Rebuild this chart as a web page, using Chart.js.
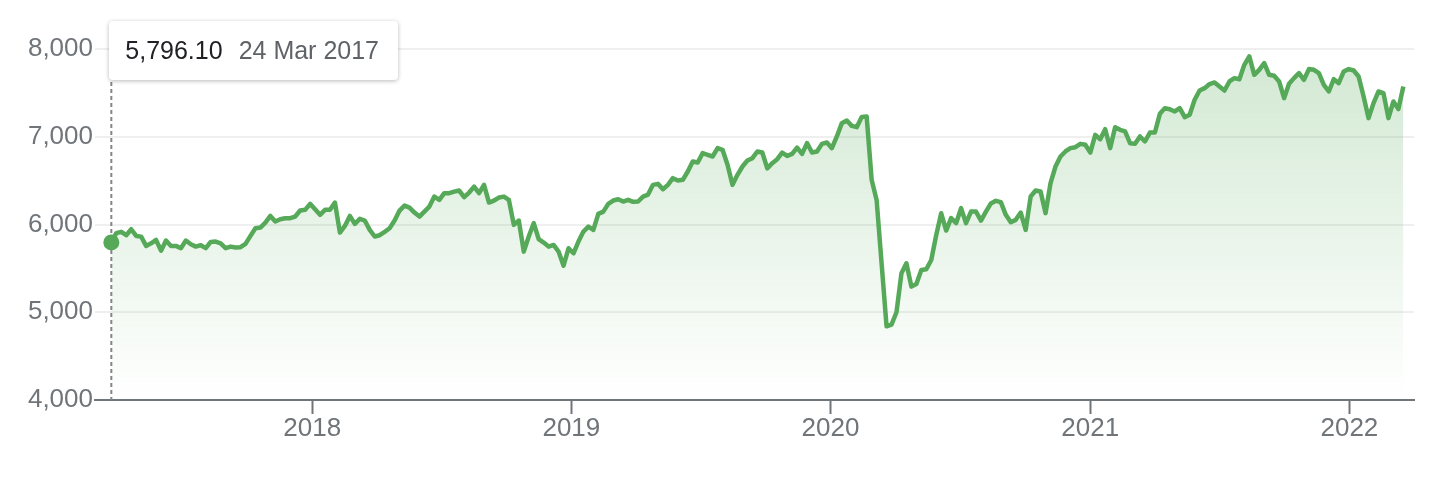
<!DOCTYPE html>
<html><head><meta charset="utf-8">
<script src="https://cdn.jsdelivr.net/npm/chart.js@4.4.1/dist/chart.umd.min.js"></script>
<style>
html,body{margin:0;padding:0;background:#fff;}
#wrap{position:relative;width:1438px;height:478px;overflow:hidden;}
#tip{position:absolute;top:21px;height:59px;box-sizing:border-box;padding:0 19px 0 16px;background:#fff;border-radius:4px;box-shadow:0 1px 4px rgba(0,0,0,0.28);font-family:"Liberation Sans",Arial,sans-serif;font-size:25px;line-height:59px;white-space:nowrap;}
#tip .v{color:#202124;}
#tip .d{color:#5f6368;margin-left:16px;}
</style></head><body>
<div id="wrap"><canvas id="c" width="1438" height="478"></canvas><div id="tip"><span class="v"></span><span class="d"></span></div></div>
<script>
// Weekly closes, first week = startDate
const startDate = '2017-03-24';
const values = [
5796.10,
5901,5916,5878,5946,5870,5862,5756,5786,5824,5702,5817,5756,5756,5730,5817,5775,5748,5764,5730,5802,5805,5786,5730,5748,5737,5741,5779,5870,5958,5965,6022,6098,6034,6060,6072,6072,6091,6159,6167,6235,6174,6110,6167,
6167,6250,5908,5984,6098,6007,6064,6045,5939,5863,5878,5916,5958,6045,6159,6216,6193,6136,6090,6147,6204,6318,6281,6357,6357,6375,6387,6311,6364,6432,6357,6452,6250,6273,6307,6318,6281,5996,6045,5691,5863,6015,5833,5794,5748,
5767,5691,5530,5729,5672,5805,5919,5976,5938,6121,6147,6235,6273,6288,6262,6281,6258,6262,6318,6341,6452,6463,6402,6452,6528,6501,6509,6604,6718,6706,6813,6794,6775,6870,6851,6680,6452,6566,6661,6729,6756,6832,6820,6640,
6699,6744,6820,6782,6805,6877,6805,6927,6820,6832,6919,6934,6870,7003,7155,7185,7124,7109,7225,7231,6510,6280,5560,4840,4860,
5000,5444,5558,5292,5323,5482,5490,5596,5881,6128,5931,6072,6015,6186,6015,6147,6147,6045,6147,6240,
6270,6255,6110,6026,6053,6136,5938,6319,6387,6376,6129,6471,6661,6775,6832,6870,6881,6919,6908,6820,7022,6972,7086,6870,7109,7079,7060,6927,6919,7003,6946,7048,7048,7261,7326,7314,7288,7326,7223,7250,7421,7527,7554,
7600,7619,7573,7527,7630,7668,7656,7820,7915,7706,7763,7839,7706,7695,7630,7440,7603,7668,7725,7649,7771,7763,7725,7592,7516,7656,7611,7744,7771,7755,7687,7459,7212,7383,7516,7497,7212,7402,7315,7573
];
const yTicks = [4000, 5000, 6000, 7000, 8000];
const yearTicks = [2018, 2019, 2020, 2021, 2022];
const monthNames = ['Jan','Feb','Mar','Apr','May','Jun','Jul','Aug','Sep','Oct','Nov','Dec'];

const DAY = 864e5;
const t0 = Date.parse(startDate + 'T00:00:00Z') / DAY;
const points = values.map((v, i) => ({x: t0 + 7 * i, y: v}));
const xMin = Date.UTC(2017, 2, 1) / DAY;
const xMax = Date.UTC(2022, 3, 2) / DAY;

const GREEN = '#55a958';
const AXIS = '#70757a';

Chart.defaults.font.family = '"Liberation Sans", Arial, Helvetica, sans-serif';
Chart.defaults.font.size = 26;
Chart.defaults.color = AXIS;

const guide = {
  id: 'guide',
  beforeDatasetsDraw(chart) {
    const p = chart.getDatasetMeta(0).data[0];
    const c = chart.ctx;
    c.save();
    c.strokeStyle = '#80868b';
    c.lineWidth = 2;
    c.setLineDash([4, 3]);
    c.beginPath();
    c.moveTo(p.x, 82);
    c.lineTo(p.x, chart.chartArea.bottom);
    c.stroke();
    c.restore();
  }
};

const chart = new Chart(document.getElementById('c'), {
  type: 'line',
  data: {
    datasets: [{
      data: points,
      borderColor: GREEN,
      borderWidth: 4.5,
      borderJoinStyle: 'round',
      tension: 0,
      fill: 'start',
      backgroundColor: (ctx) => {
        const ch = ctx.chart;
        const area = ch.chartArea;
        if (!area) return 'rgba(87,171,90,0.1)';
        const g = ch.ctx.createLinearGradient(0, area.top, 0, area.bottom);
        g.addColorStop(0, 'rgba(87,171,90,0.27)');
        g.addColorStop(1, 'rgba(87,171,90,0)');
        return g;
      },
      pointRadius: (ctx) => ctx.dataIndex === 0 ? 8 : 0,
      pointHoverRadius: (ctx) => ctx.dataIndex === 0 ? 8 : 0,
      pointBackgroundColor: GREEN,
      pointBorderWidth: 0
    }]
  },
  options: {
    responsive: false,
    animation: false,
    events: [],
    layout: {padding: {top: 49, right: 24, left: 0, bottom: 0}},
    plugins: {legend: {display: false}, tooltip: {enabled: false}},
    scales: {
      x: {
        type: 'linear',
        min: xMin,
        max: xMax,
        afterFit: (s) => { s.height = 78; },
        afterBuildTicks: (s) => { s.ticks = yearTicks.map(y => ({value: Date.UTC(y, 0, 1) / DAY})); },
        grid: {drawOnChartArea: false, drawTicks: true, tickLength: 14, tickColor: AXIS, tickWidth: 2, color: AXIS},
        border: {display: true, color: AXIS, width: 2},
        ticks: {
          padding: -1,
          maxRotation: 0,
          autoSkip: false,
          callback: (v) => String(new Date(v * DAY).getUTCFullYear())
        }
      },
      y: {
        min: yTicks[0],
        max: yTicks[yTicks.length - 1],
        afterFit: (s) => { s.width = 95; },
        afterBuildTicks: (s) => { s.ticks = yTicks.map(v => ({value: v})); },
        grid: {drawTicks: false, color: '#efefef', lineWidth: 2},
        border: {display: false},
        ticks: {padding: 2, callback: (v) => v.toLocaleString('en-US')}
      }
    }
  },
  plugins: [guide]
});

// tooltip box for the first point
const p0 = chart.getDatasetMeta(0).data[0];
const d0 = new Date(t0 * DAY);
const tip = document.getElementById('tip');
tip.querySelector('.v').textContent = values[0].toLocaleString('en-US', {minimumFractionDigits: 2, maximumFractionDigits: 2});
tip.querySelector('.d').textContent = d0.getUTCDate() + ' ' + monthNames[d0.getUTCMonth()] + ' ' + d0.getUTCFullYear();
tip.style.left = (p0.x - 2) + 'px';
</script>
</body></html>
